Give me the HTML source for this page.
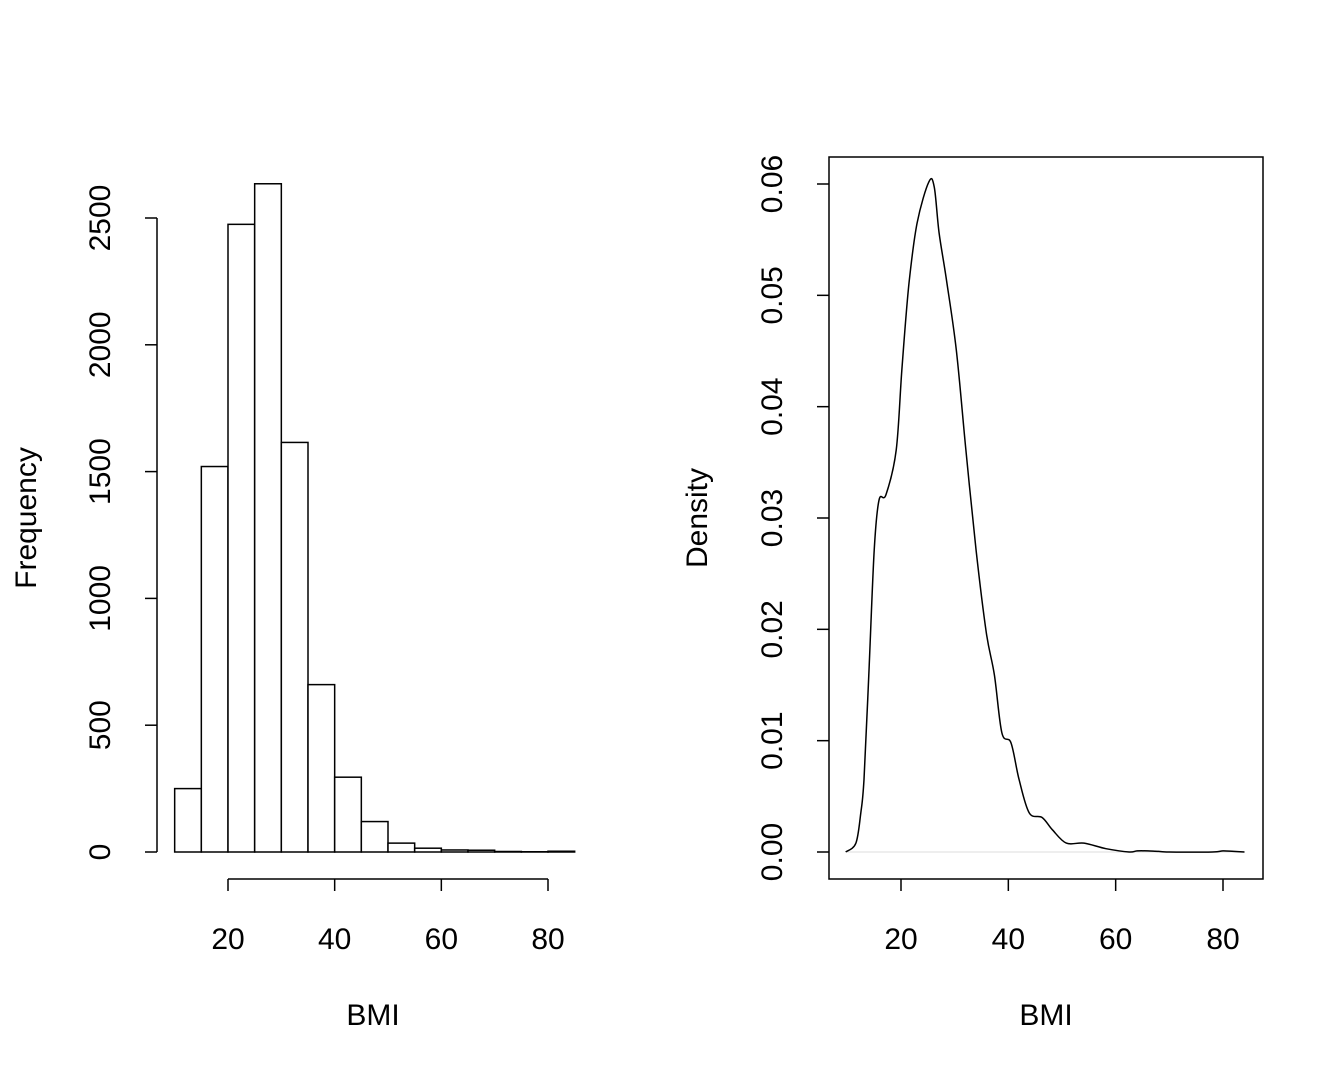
<!DOCTYPE html>
<html><head><meta charset="utf-8"><style>
body{margin:0;background:#fff}
svg{display:block;font-family:"Liberation Sans",Arial,sans-serif}
</style></head><body>
<svg id="c" width="1344" height="1075" viewBox="0 0 1344 1075"></svg>
<script>
const histBreaks=[10,15,20,25,30,35,40,45,50,55,60,65,70,75,80,85];
const histCounts=[250,1520,2475,2635,1615,660,295,120,35,15,8,7,2,1,3];
const histYTicks=[0,500,1000,1500,2000,2500];
const histXTicks=[20,40,60,80];
const densX=[9.7,11.6,12.5,13.1,14.0,15.0,15.9,17.2,19.1,20.2,21.5,23.0,25.2,26.2,27.1,28.4,30.3,32.1,34.0,35.9,37.4,38.8,40.5,42,43.9,46.3,48.2,50.8,54.1,58.2,62.5,64,66,68,70,78,80,82,84];
const densY=[0,0.0008,0.0035,0.0065,0.0159,0.0271,0.0316,0.0321,0.0361,0.0436,0.0511,0.0565,0.0602,0.0597,0.0556,0.0516,0.0451,0.0361,0.0271,0.0197,0.0159,0.0107,0.0098,0.0065,0.0035,0.0031,0.002,0.0008,0.0008,0.0003,0,0.0001,0.0001,0.00005,0,0,0.0001,0.00005,0];
const densYTicks=[0,0.01,0.02,0.03,0.04,0.05,0.06];
const densYLabels=["0.00","0.01","0.02","0.03","0.04","0.05","0.06"];
const densXTicks=[20,40,60,80];

const svg=document.getElementById('c');
const NS='http://www.w3.org/2000/svg';
function mk(t,a,txt){const e=document.createElementNS(NS,t);for(const k in a)e.setAttribute(k,a[k]);if(txt!==undefined)e.textContent=txt;svg.appendChild(e);return e;}
const ln={stroke:'#000','stroke-width':1.5,fill:'none'};
const FS=30;

// Histogram
const hx=v=>228+(v-20)*(548-228)/60;
const hy=v=>852-v*(852-218)/2500;
histCounts.forEach((c,i)=>{
  const r=mk('rect',{x:hx(histBreaks[i]),y:hy(c),width:hx(histBreaks[i+1])-hx(histBreaks[i]),height:852-hy(c),fill:'#fff',stroke:'#000','stroke-width':1.5});
  
  
});
let a=mk('line',Object.assign({x1:157,x2:157,y1:hy(0),y2:hy(2500)},ln));

histYTicks.forEach(t=>{
  mk('line',Object.assign({x1:145,x2:157,y1:hy(t),y2:hy(t)},ln));
  const tx=mk('text',{x:110,y:hy(t),'font-size':FS,'text-anchor':'middle',transform:`rotate(-90 110 ${hy(t)})`},t);
  
});
a=mk('line',Object.assign({x1:hx(20),x2:hx(80),y1:879,y2:879},ln));

histXTicks.forEach(t=>{
  mk('line',Object.assign({x1:hx(t),x2:hx(t),y1:879,y2:891},ln));
  const tx=mk('text',{x:hx(t),y:949,'font-size':FS,'text-anchor':'middle'},t);
  
});
a=mk('text',{x:373,y:1025,'font-size':FS,'text-anchor':'middle'},'BMI');

a=mk('text',{x:36,y:518,'font-size':FS,'text-anchor':'middle',transform:'rotate(-90 36 518)'},'Frequency');


// Density
const dx=v=>901+(v-20)*(1223-901)/60;
const dy=v=>852-v*(852-184)/0.06;
a=mk('rect',{x:829,y:157,width:434,height:722,fill:'none',stroke:'#000','stroke-width':1.5});

a=mk('line',{x1:dx(densX[0]),x2:dx(densX[densX.length-1]),y1:dy(0),y2:dy(0),stroke:'#ddd','stroke-width':1});

const P=densX.map((v,i)=>[dx(v),dy(densY[i])]);
let d='M'+P[0][0].toFixed(1)+','+P[0][1].toFixed(1);
for(let i=0;i<P.length-1;i++){
  const p0=P[Math.max(0,i-1)],p1=P[i],p2=P[i+1],p3=P[Math.min(P.length-1,i+2)];
  const c1=[p1[0]+(p2[0]-p0[0])/6,p1[1]+(p2[1]-p0[1])/6];
  const c2=[p2[0]-(p3[0]-p1[0])/6,p2[1]-(p3[1]-p1[1])/6];
  d+=`C${c1[0].toFixed(1)},${c1[1].toFixed(1)} ${c2[0].toFixed(1)},${c2[1].toFixed(1)} ${p2[0].toFixed(1)},${p2[1].toFixed(1)}`;
}
a=mk('path',Object.assign({d:d,'stroke-linejoin':'round'},ln));

densYTicks.forEach((t,i)=>{
  mk('line',Object.assign({x1:817,x2:829,y1:dy(t),y2:dy(t)},ln));
  const tx=mk('text',{x:782,y:dy(t),'font-size':FS,'text-anchor':'middle',transform:`rotate(-90 782 ${dy(t)})`},densYLabels[i]);
  
});
densXTicks.forEach(t=>{
  mk('line',Object.assign({x1:dx(t),x2:dx(t),y1:879,y2:891},ln));
  const tx=mk('text',{x:dx(t),y:949,'font-size':FS,'text-anchor':'middle'},t);
  
});
a=mk('text',{x:1046,y:1025,'font-size':FS,'text-anchor':'middle'},'BMI');

a=mk('text',{x:707,y:518,'font-size':FS,'text-anchor':'middle',transform:'rotate(-90 707 518)'},'Density');

</script>
</body></html>
